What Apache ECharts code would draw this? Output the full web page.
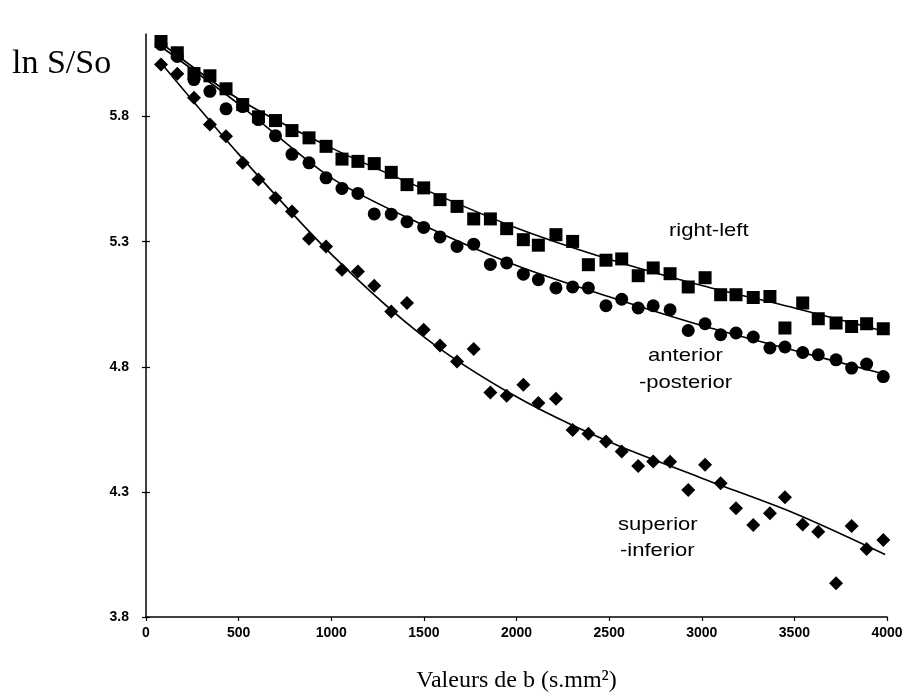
<!DOCTYPE html>
<html>
<head>
<meta charset="utf-8">
<script src="https://cdn.jsdelivr.net/npm/echarts@6/dist/echarts.min.js"></script>
<style>html,body{margin:0;padding:0;background:#fff;}#c{width:910px;height:698px;}</style>
</head>
<body>
<div id="c"></div>
<script>
// b values (s.mm^-2)
const bValues = [81,169,259,345,432,522,607,699,788,880,972,1058,1144,1232,1324,1409,1499,1587,1679,1769,1859,1947,2037,2118,2213,2303,2388,2483,2568,2657,2738,2829,2927,3018,3102,3185,3278,3368,3449,3545,3629,3725,3809,3890,3980];

const rightLeft = [6.10,6.055,5.972,5.963,5.911,5.848,5.799,5.784,5.744,5.715,
  5.681,5.63,5.621,5.612,5.577,5.528,5.515,5.468,5.441,5.391,
  5.391,5.352,5.308,5.286,5.328,5.301,5.208,5.226,5.231,5.164,
  5.195,5.172,5.119,5.156,5.088,5.088,5.077,5.081,4.955,5.055,
  4.992,4.975,4.961,4.972,4.952];

const anteriorPosterior = [6.088,6.04,5.948,5.901,5.831,5.84,5.788,5.723,5.649,5.615,
  5.555,5.513,5.493,5.411,5.41,5.38,5.357,5.319,5.281,5.29,
  5.209,5.215,5.17,5.148,5.115,5.119,5.115,5.044,5.07,5.035,
  5.044,5.028,4.945,4.972,4.928,4.935,4.919,4.875,4.879,4.857,
  4.848,4.828,4.795,4.811,4.761];

const superiorInferior = [6.008,5.971,5.875,5.768,5.721,5.615,5.548,5.475,5.421,5.312,
  5.281,5.188,5.181,5.124,5.021,5.055,4.948,4.885,4.821,4.871,
  4.697,4.684,4.728,4.655,4.672,4.547,4.532,4.501,4.461,4.403,
  4.421,4.42,4.308,4.408,4.335,4.235,4.168,4.215,4.279,4.17,
  4.141,3.935,4.164,4.072,4.108];

// fitted curves
const fitRLx = [80,500,1000,1500,2000,2500,3000,3500,3995];
const fitRLy = [6.095,5.87,5.675,5.51,5.355,5.23,5.125,5.035,4.94];
const fitAPx = [80,500,1000,1500,2000,2500,3000,3500,3990];
const fitAPy = [6.08,5.85,5.555,5.365,5.205,5.08,4.965,4.865,4.77];
const fitSIx = [80,500,1000,1500,2000,2500,3000,3500,3990];
const fitSIy = [6.015,5.65,5.25,4.92,4.68,4.50,4.355,4.215,4.05];

const yTicks = [3.8,4.3,4.8,5.3,5.8];
const xTicks = [0,500,1000,1500,2000,2500,3000,3500,4000];

const zip = (a,b) => a.map((v,i)=>[v,b[i]]);

const chart = echarts.init(document.getElementById('c'));
const labelFont = {fontFamily:'Liberation Sans, Arial, sans-serif', fontWeight:'bold', fontSize:14, color:'#000'};
const annFont = '19px "Liberation Sans", Arial, sans-serif';
const ann = (t,x,y) => ({type:'text', left:x, top:y, scaleX:1.16, style:{text:t, font:annFont, fill:'#000'}});
const fitLine = (xs,ys) => ({type:'line', data:zip(xs,ys), smooth:0.3, symbol:'none', lineStyle:{color:'#000', width:1.6}, z:2});
chart.setOption({
  animation:false,
  backgroundColor:'#fff',
  grid:{left:146, right:23, top:34, bottom:81, containLabel:false, outerBoundsMode:'none'},
  xAxis:{
    type:'value', min:0, max:4000, interval:500,
    axisLine:{lineStyle:{color:'#000', width:1.5}},
    axisTick:{inside:false, length:4, customValues:xTicks, lineStyle:{color:'#000', width:1.2}},
    splitLine:{show:false},
    axisLabel:Object.assign({margin:9, customValues:xTicks, formatter:v=>String(Math.round(v))}, labelFont),
    name:'Valeurs de b (s.mm²)', nameLocation:'middle', nameGap:52,
    nameTextStyle:{fontFamily:'Liberation Serif, Times New Roman, serif', fontSize:24, color:'#000'}
  },
  yAxis:[{
    type:'value', min:3.8, max:6.13, interval:0.5,
    axisLine:{show:true, lineStyle:{color:'#000', width:1.5}},
    axisTick:{show:true, inside:false, length:4, customValues:yTicks, lineStyle:{color:'#000', width:1.2}},
    splitLine:{show:false},
    axisLabel:Object.assign({margin:17, customValues:yTicks, formatter:v=>v.toFixed(1)}, labelFont)
  },{
    type:'value', min:3.8, max:6.13, interval:0.5, position:'left', offset:0,
    axisLine:{show:false}, axisLabel:{show:false}, splitLine:{show:false},
    axisTick:{show:true, inside:true, length:4, customValues:yTicks, lineStyle:{color:'#000', width:1.2}}
  }],
  graphic:[
    {type:'text', left:12, top:47, style:{text:'ln S/So', font:'34px "Liberation Serif", "Times New Roman", serif', fill:'#000'}},
    ann('right-left',669,221),
    ann('anterior',648,346),
    ann('-posterior',639,373),
    ann('superior',618,515),
    ann('-inferior',620,541)
  ],
  series:[
    fitLine(fitSIx,fitSIy),
    fitLine(fitAPx,fitAPy),
    fitLine(fitRLx,fitRLy),
    {type:'scatter', name:'superior-inferior', data:zip(bValues,superiorInferior), symbol:'diamond', symbolSize:[14,14], itemStyle:{color:'#000', opacity:1}, z:3},
    {type:'scatter', name:'anterior-posterior', data:zip(bValues,anteriorPosterior), symbol:'circle', symbolSize:13, itemStyle:{color:'#000', opacity:1}, z:3},
    {type:'scatter', name:'right-left', data:zip(bValues,rightLeft), symbol:'rect', symbolSize:13, itemStyle:{color:'#000', opacity:1}, z:4}
  ]
});
</script>
</body>
</html>
